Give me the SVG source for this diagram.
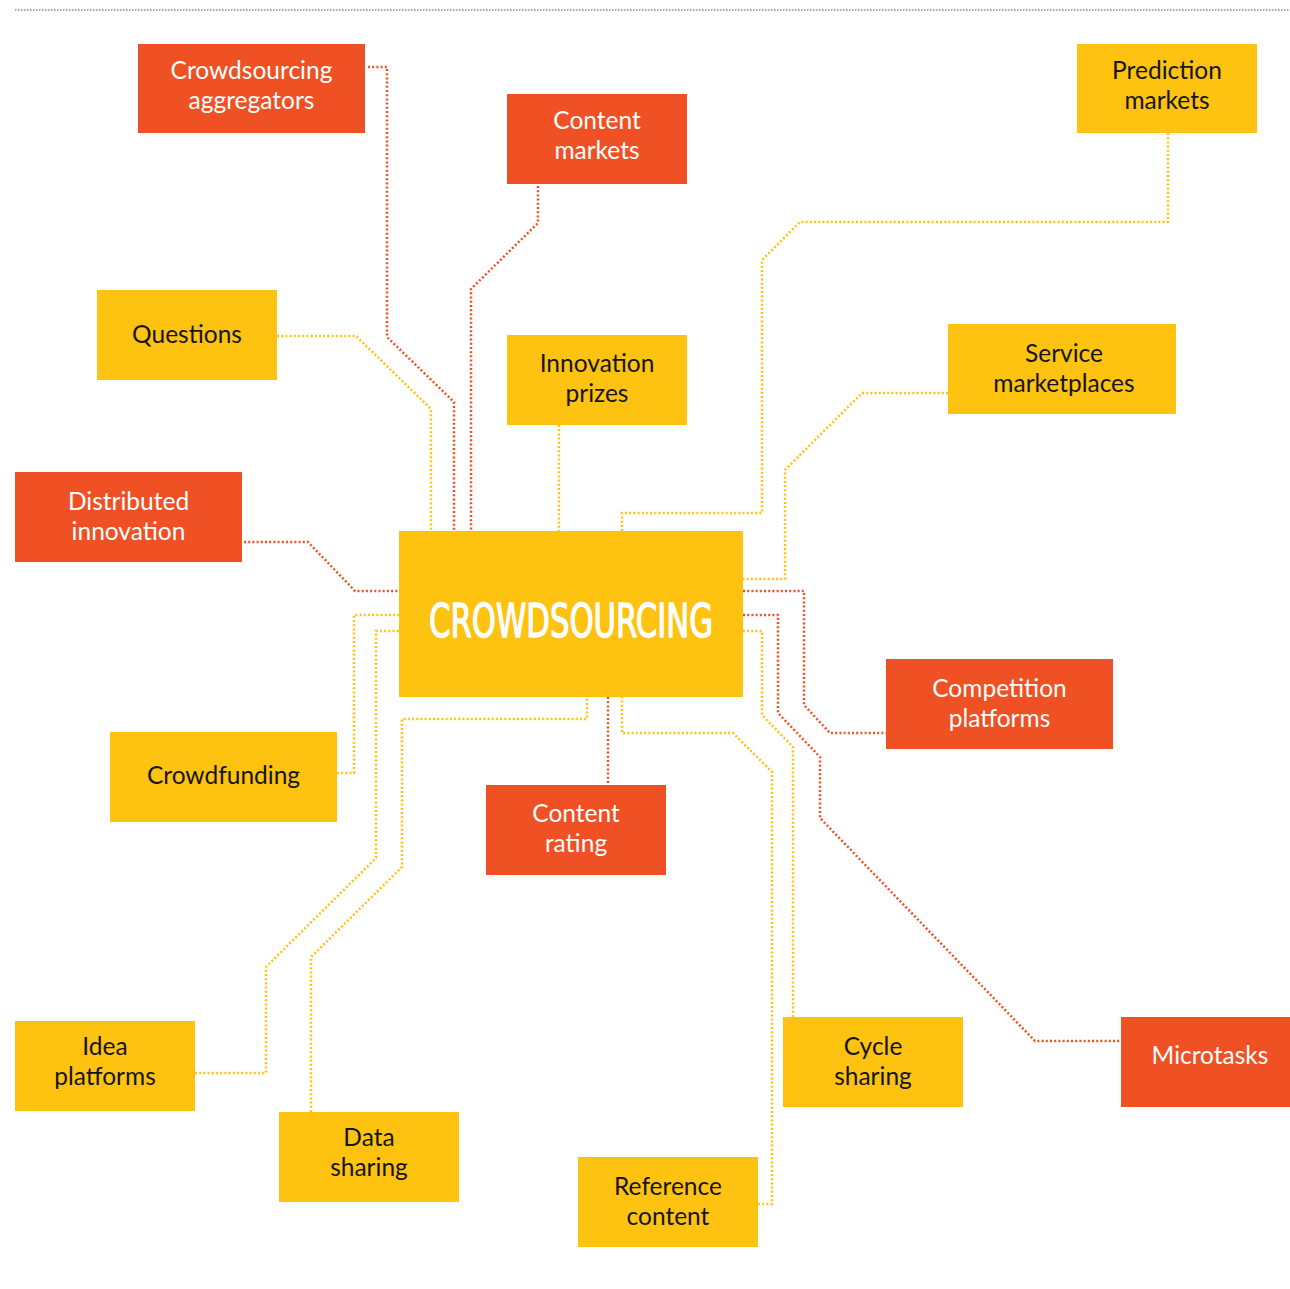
<svg xmlns="http://www.w3.org/2000/svg" width="1290" height="1289" viewBox="0 0 1290 1289">
<style>
.r{fill:#F05124}
.y{fill:#FEC211}
.tw{fill:#ffffff;font-family:Lato,"Noto Sans",sans-serif;font-size:24.5px;text-anchor:middle}
.tb{fill:#151515;font-family:Lato,"Noto Sans",sans-serif;font-size:24.5px;text-anchor:middle}
.cr{fill:none;stroke:#F05124;stroke-width:2.5;stroke-dasharray:2 2.2}
.cy{fill:none;stroke:#FEC211;stroke-width:2.5;stroke-dasharray:2 2.2}
.big{fill:#ffffff;stroke:#ffffff;stroke-width:1.3;stroke-linejoin:round;font-family:"DejaVu Sans Condensed","DejaVu Sans",sans-serif;font-weight:normal;font-size:46px}
</style>
<rect width="1290" height="1289" fill="#ffffff"/>
<line x1="15" y1="10" x2="1290" y2="10" stroke="#8a8a8a" stroke-width="1.4" stroke-dasharray="1.5 1.5"/>
<g id="connectors">
<path class="cr" d="M368,67 H387 V337 L454,402 V531"/>
<path class="cr" d="M538,186 V223 L471,289 V531"/>
<path class="cr" d="M244,542 H308 L355,591 H399"/>
<path class="cr" d="M608,697 V785"/>
<path class="cr" d="M743,591 H804 V705 L830,733 H886"/>
<path class="cr" d="M743,615 H778 V713 L820,757 V818 L1035,1041 H1121"/>
<path class="cy" d="M277,336 H356 L431,409 V531"/>
<path class="cy" d="M559,425 V531"/>
<path class="cy" d="M1168,133 V222 H800 L762,260 V513 H622 V531"/>
<path class="cy" d="M948,393 H862 L785,470 V579 H743"/>
<path class="cy" d="M337,773 H354 V615 H399"/>
<path class="cy" d="M195,1073 H266 V967 L376,858 V631 H399"/>
<path class="cy" d="M311,1112 V957 L402,867 V719 H587 V697"/>
<path class="cy" d="M793,1017 V747 L762,715 V631 H743"/>
<path class="cy" d="M758,1204 H772 V772 L733,733 H622 V697"/>
</g>
<g id="center">
<rect class="y" x="399" y="531" width="344" height="166"/>
<text class="big" x="429" y="637" textLength="284" lengthAdjust="spacingAndGlyphs">CROWDSOURCING</text>
</g>
<g id="crowdsourcing-aggregators">
<rect class="r" x="138" y="44" width="227" height="89"/>
<text class="tw" x="251.5" y="79">Crowdsourcing</text>
<text class="tw" x="251.5" y="109">aggregators</text>
</g>
<g id="content-markets">
<rect class="r" x="507" y="94" width="180" height="90"/>
<text class="tw" x="597" y="129">Content</text>
<text class="tw" x="597" y="159">markets</text>
</g>
<g id="prediction-markets">
<rect class="y" x="1077" y="44" width="180" height="89"/>
<text class="tb" x="1167" y="79">Prediction</text>
<text class="tb" x="1167" y="109">markets</text>
</g>
<g id="questions">
<rect class="y" x="97" y="290" width="180" height="90"/>
<text class="tb" x="187" y="343">Questions</text>
</g>
<g id="innovation-prizes">
<rect class="y" x="507" y="335" width="180" height="90"/>
<text class="tb" x="597" y="372">Innovation</text>
<text class="tb" x="597" y="402">prizes</text>
</g>
<g id="service-marketplaces">
<rect class="y" x="948" y="324" width="228" height="90"/>
<text class="tb" x="1064" y="362">Service</text>
<text class="tb" x="1064" y="392">marketplaces</text>
</g>
<g id="distributed-innovation">
<rect class="r" x="15" y="472" width="227" height="90"/>
<text class="tw" x="128.5" y="510">Distributed</text>
<text class="tw" x="128.5" y="540">innovation</text>
</g>
<g id="competition-platforms">
<rect class="r" x="886" y="659" width="227" height="90"/>
<text class="tw" x="999.5" y="697">Competition</text>
<text class="tw" x="999.5" y="727">platforms</text>
</g>
<g id="crowdfunding">
<rect class="y" x="110" y="732" width="227" height="90"/>
<text class="tb" x="223.5" y="784">Crowdfunding</text>
</g>
<g id="content-rating">
<rect class="r" x="486" y="785" width="180" height="90"/>
<text class="tw" x="576" y="822">Content</text>
<text class="tw" x="576" y="852">rating</text>
</g>
<g id="idea-platforms">
<rect class="y" x="15" y="1021" width="180" height="90"/>
<text class="tb" x="105" y="1055">Idea</text>
<text class="tb" x="105" y="1085">platforms</text>
</g>
<g id="cycle-sharing">
<rect class="y" x="783" y="1017" width="180" height="90"/>
<text class="tb" x="873" y="1055">Cycle</text>
<text class="tb" x="873" y="1085">sharing</text>
</g>
<g id="microtasks">
<rect class="r" x="1121" y="1017" width="169" height="90"/>
<text class="tw" x="1210" y="1064">Microtasks</text>
</g>
<g id="data-sharing">
<rect class="y" x="279" y="1112" width="180" height="90"/>
<text class="tb" x="369" y="1146">Data</text>
<text class="tb" x="369" y="1176">sharing</text>
</g>
<g id="reference-content">
<rect class="y" x="578" y="1157" width="180" height="90"/>
<text class="tb" x="668" y="1195">Reference</text>
<text class="tb" x="668" y="1225">content</text>
</g>
</svg>
